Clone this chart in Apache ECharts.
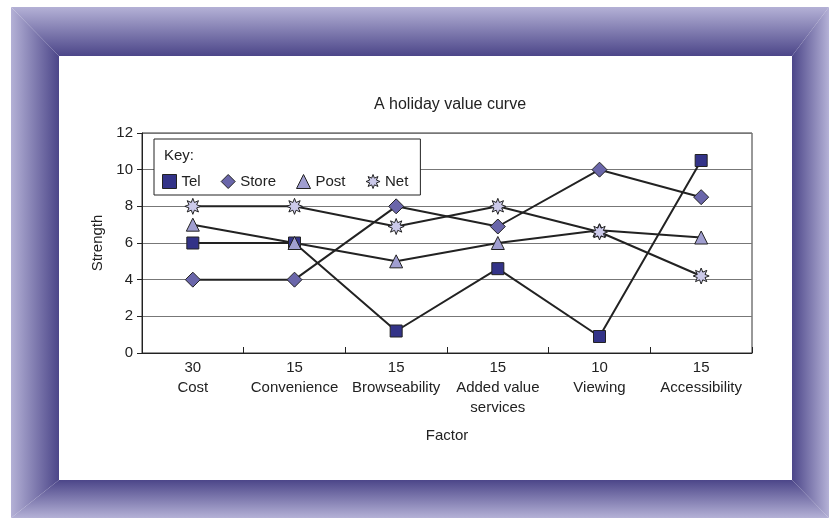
<!DOCTYPE html>
<html><head><meta charset="utf-8">
<script src="https://cdn.jsdelivr.net/npm/echarts@6/dist/echarts.min.js"></script>
<style>html,body{margin:0;padding:0;background:#fff}#c{width:838px;height:520px}</style>
</head><body><div id="c"></div>
<script>
const categories = ['30\nCost','15\nConvenience','15\nBrowseability','15\nAdded value\nservices','10\nViewing','15\nAccessibility'];
const tel   = [6, 6, 1.2, 4.6, 0.9, 10.5];
const store = [4, 4, 8, 6.9, 10, 8.5];
const post  = [7, 6, 5, 6, 6.7, 6.3];
const net   = [8, 8, 6.9, 8, 6.6, 4.2];
const yTicks = [0, 2, 4, 6, 8, 10, 12];

// 8-pointed star symbol path
let sp = '';
for (let i = 0; i < 16; i++) {
  const r = i % 2 === 0 ? 10 : 5.2;
  const a = -Math.PI / 2 + i * Math.PI / 8;
  const x = (r * Math.cos(a) + 10).toFixed(2), y = (r * Math.sin(a) + 10).toFixed(2);
  sp += (i === 0 ? 'M' : 'L') + x + ' ' + y + ' ';
}
const starPath = 'path://' + sp + 'Z';

const FONT = '"Liberation Sans", Arial, sans-serif';
const light = '#b4b1d6', dark = '#4c4689';
function lg(x, y, x2, y2, c1, c2) {
  return {type:'linear', x:x, y:y, x2:x2, y2:y2, global:false, colorStops:[{offset:0,color:c1},{offset:1,color:c2}]};
}
const L=11, T=7, R=829, B=518, il=59, it=56, ir=792, ib=480;
const colors = {Tel:'#333388', Store:'#6a66aa', Post:'#a09ed0', Net:'#cccaea'};

const chart = echarts.init(document.getElementById('c'));
const mk = (name, data, symbol, size) => ({
  name, type:'line', data, symbol, symbolSize:size, showSymbol:true,
  lineStyle:{color:'#222', width:2},
  itemStyle:{color:colors[name], borderColor:'#222', borderWidth:1},
  emphasis:{disabled:true}, animation:false, z:3
});
const legItem = (name, icon) => ({name, icon, itemStyle:{color:colors[name], borderColor:'#222', borderWidth:1}});
chart.setOption({
  animation:false,
  textStyle:{fontFamily:FONT},
  title:{text:'A holiday value curve', left:445, top:92, textAlign:'center',
    textStyle:{fontSize:16, fontWeight:'normal', color:'#222', fontFamily:FONT}},
  grid:{left:142, right:86, top:133, bottom:167, show:true, borderColor:'#333', borderWidth:1, backgroundColor:'transparent'},
  legend:{
    left:154, top:139, orient:'horizontal', padding:[35,12,6,8],
    backgroundColor:'#fff', borderColor:'#222', borderWidth:1,
    itemWidth:14, itemHeight:14, itemGap:20,
    textStyle:{fontSize:15, color:'#222', fontFamily:FONT},
    data:[legItem('Tel','rect'), legItem('Store','diamond'), legItem('Post','triangle'), legItem('Net', starPath)],
    selectedMode:false
  },
  graphic:[
    {type:'polygon', silent:true, shape:{points:[[L,T],[R,T],[ir,it],[il,it]]}, style:{fill:lg(0,0,0,1,light,dark)}},
    {type:'polygon', silent:true, shape:{points:[[il,ib],[ir,ib],[R,B],[L,B]]}, style:{fill:lg(0,0,0,1,dark,light)}},
    {type:'polygon', silent:true, shape:{points:[[L,T],[il,it],[il,ib],[L,B]]}, style:{fill:lg(0,0,1,0,light,dark)}},
    {type:'polygon', silent:true, shape:{points:[[R,T],[ir,it],[ir,ib],[R,B]]}, style:{fill:lg(1,0,0,0,light,dark)}},
    {type:'text', left:164, top:148, z:100, style:{text:'Key:', fontSize:15, fill:'#222', fontFamily:FONT}}
  ],
  xAxis:{
    type:'category', data:categories, boundaryGap:true,
    name:'Factor', nameLocation:'middle', nameGap:75,
    nameTextStyle:{fontSize:15, color:'#222', fontFamily:FONT},
    axisLine:{lineStyle:{color:'#222', width:1}},
    axisTick:{show:true, inside:true, length:6, lineStyle:{color:'#222'}},
    axisLabel:{fontSize:15, color:'#222', lineHeight:20, margin:5, interval:0, fontFamily:FONT},
    splitLine:{show:false}
  },
  yAxis:{
    type:'value', min:yTicks[0], max:yTicks[yTicks.length-1], interval:2,
    name:'Strength', nameLocation:'middle', nameGap:37,
    nameTextStyle:{fontSize:15, color:'#222', fontFamily:FONT},
    axisLine:{show:true, lineStyle:{color:'#222', width:1}},
    axisTick:{show:true, length:5, lineStyle:{color:'#222'}},
    axisLabel:{fontSize:15, color:'#222', margin:9, fontFamily:FONT},
    splitLine:{show:true, lineStyle:{color:'#777', width:1}}
  },
  series:[
    mk('Tel', tel, 'rect', 12),
    mk('Store', store, 'diamond', 15),
    mk('Post', post, 'triangle', 13),
    mk('Net', net, starPath, 16)
  ]
});
</script></body></html>
